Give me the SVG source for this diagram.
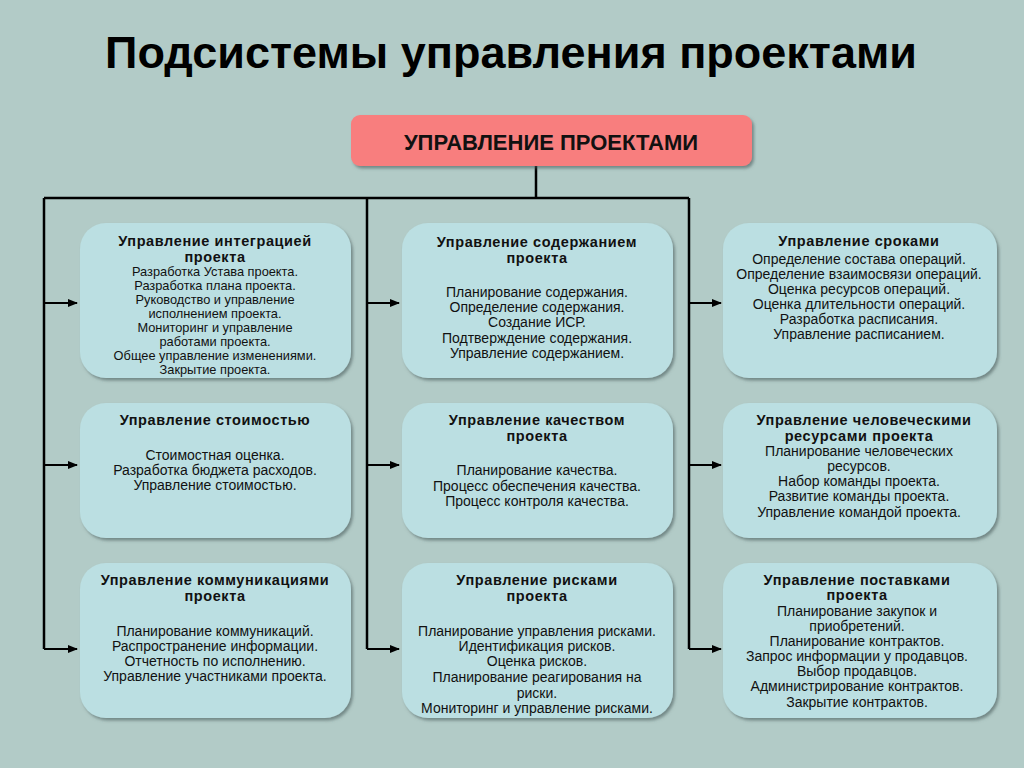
<svg xmlns="http://www.w3.org/2000/svg" width="1024" height="768" viewBox="0 0 1024 768">
<defs>
<marker id="arr" markerWidth="10" markerHeight="8" refX="9" refY="4" orient="auto" markerUnits="userSpaceOnUse">
<path d="M0,0 L10,4 L0,8 Z" fill="#000"/>
</marker>
<filter id="sh" x="-10%" y="-10%" width="120%" height="130%">
<feDropShadow dx="2" dy="2.5" stdDeviation="1.5" flood-color="#4a5a5a" flood-opacity="0.6"/>
</filter>
</defs>
<style>
.box{fill:#bbdfe2;filter:url(#sh);}
.h{font-family:"Liberation Sans",Arial,sans-serif;font-weight:bold;font-size:14.5px;fill:#111;text-anchor:middle;letter-spacing:0.6px;}
.b{font-family:"Liberation Sans",Arial,sans-serif;font-size:14px;fill:#111;text-anchor:middle;}
.s{font-size:12.8px;}
.ln{stroke:#000;stroke-width:2.5;fill:none;}
.ar{stroke:#000;stroke-width:2;fill:none;marker-end:url(#arr);}
</style>
<rect width="1024" height="768" fill="#b2cbc7"/>
<text x="511" y="68" font-family="'Liberation Sans',Arial,sans-serif" font-weight="bold" font-size="45" text-anchor="middle" fill="#000">Подсистемы управления проектами</text>

<g id="connectors">
<path class="ln" d="M536,166 V198 M44,198 H689 M44,198 V649 M367,198 V649 M689,198 V649"/>
<path class="ar" d="M44,303 H77"/>
<path class="ar" d="M44,465 H77"/>
<path class="ar" d="M44,649 H77"/>
<path class="ar" d="M367,303 H399"/>
<path class="ar" d="M367,465 H399"/>
<path class="ar" d="M367,649 H399"/>
<path class="ar" d="M689,303 H721"/>
<path class="ar" d="M689,465 H721"/>
<path class="ar" d="M689,649 H721"/>
</g>

<g id="root">
<rect x="351" y="115" width="401" height="51" rx="9" fill="#f87e7e" filter="url(#sh)"/>
<text x="551" y="150" font-family="'Liberation Sans',Arial,sans-serif" font-weight="bold" font-size="22" text-anchor="middle" fill="#111">УПРАВЛЕНИЕ ПРОЕКТАМИ</text>
</g>

<g id="n-integration">
<rect class="box" x="80" y="223" width="271" height="155" rx="26"/>
<text class="h" x="215" y="246">Управление интеграцией</text>
<text class="h" x="215" y="262">проекта</text>
<text class="b s" x="215" y="276">Разработка Устава проекта.</text>
<text class="b s" x="215" y="290">Разработка плана проекта.</text>
<text class="b s" x="215" y="304">Руководство и управление</text>
<text class="b s" x="215" y="318">исполнением проекта.</text>
<text class="b s" x="215" y="332">Мониторинг и управление</text>
<text class="b s" x="215" y="346">работами проекта.</text>
<text class="b s" x="215" y="360">Общее управление изменениями.</text>
<text class="b s" x="215" y="374">Закрытие проекта.</text>
</g>

<g id="n-scope">
<rect class="box" x="402" y="223" width="271" height="155" rx="26"/>
<text class="h" x="537" y="247">Управление содержанием</text>
<text class="h" x="537" y="263">проекта</text>
<text class="b" x="537" y="297">Планирование содержания.</text>
<text class="b" x="537" y="312">Определение содержания.</text>
<text class="b" x="537" y="327">Создание ИСР.</text>
<text class="b" x="537" y="343">Подтверждение содержания.</text>
<text class="b" x="537" y="358">Управление содержанием.</text>
</g>

<g id="n-time">
<rect class="box" x="723" y="223" width="274" height="155" rx="26"/>
<text class="h" x="859" y="246">Управление сроками</text>
<text class="b" x="859" y="264">Определение состава операций.</text>
<text class="b" x="859" y="279">Определение взаимосвязи операций.</text>
<text class="b" x="859" y="294">Оценка ресурсов операций.</text>
<text class="b" x="859" y="309">Оценка длительности операций.</text>
<text class="b" x="859" y="324">Разработка расписания.</text>
<text class="b" x="859" y="339">Управление расписанием.</text>
</g>

<g id="n-cost">
<rect class="box" x="80" y="403" width="271" height="135" rx="26"/>
<text class="h" x="215" y="425">Управление стоимостью</text>
<text class="b" x="215" y="460">Стоимостная оценка.</text>
<text class="b" x="215" y="475">Разработка бюджета расходов.</text>
<text class="b" x="215" y="490">Управление стоимостью.</text>
</g>

<g id="n-quality">
<rect class="box" x="402" y="403" width="271" height="135" rx="26"/>
<text class="h" x="537" y="425">Управление качеством</text>
<text class="h" x="537" y="441">проекта</text>
<text class="b" x="537" y="475">Планирование качества.</text>
<text class="b" x="537" y="491">Процесс обеспечения качества.</text>
<text class="b" x="537" y="506">Процесс контроля качества.</text>
</g>

<g id="n-hr">
<rect class="box" x="723" y="403" width="274" height="135" rx="26"/>
<text class="h" x="864" y="425">Управление человеческими</text>
<text class="h" x="859" y="441">ресурсами проекта</text>
<text class="b" x="859" y="456">Планирование человеческих</text>
<text class="b" x="859" y="471">ресурсов.</text>
<text class="b" x="859" y="486">Набор команды проекта.</text>
<text class="b" x="859" y="501">Развитие команды проекта.</text>
<text class="b" x="859" y="517">Управление командой проекта.</text>
</g>

<g id="n-comm">
<rect class="box" x="80" y="563" width="271" height="155" rx="26"/>
<text class="h" x="215" y="585">Управление коммуникациями</text>
<text class="h" x="215" y="601">проекта</text>
<text class="b" x="215" y="636">Планирование коммуникаций.</text>
<text class="b" x="215" y="651">Распространение информации.</text>
<text class="b" x="215" y="666">Отчетность по исполнению.</text>
<text class="b" x="215" y="681">Управление участниками проекта.</text>
</g>

<g id="n-risk">
<rect class="box" x="402" y="563" width="271" height="155" rx="26"/>
<text class="h" x="537" y="585">Управление рисками</text>
<text class="h" x="537" y="601">проекта</text>
<text class="b" x="537" y="636">Планирование управления рисками.</text>
<text class="b" x="537" y="651">Идентификация рисков.</text>
<text class="b" x="537" y="666">Оценка рисков.</text>
<text class="b" x="537" y="682">Планирование реагирования на</text>
<text class="b" x="537" y="698">риски.</text>
<text class="b" x="537" y="713">Мониторинг и управление рисками.</text>
</g>

<g id="n-procurement">
<rect class="box" x="723" y="563" width="274" height="155" rx="26"/>
<text class="h" x="857" y="585">Управление поставками</text>
<text class="h" x="857" y="600">проекта</text>
<text class="b" x="857" y="616">Планирование закупок и</text>
<text class="b" x="857" y="631">приобретений.</text>
<text class="b" x="857" y="646">Планирование контрактов.</text>
<text class="b" x="857" y="661">Запрос информации у продавцов.</text>
<text class="b" x="857" y="676">Выбор продавцов.</text>
<text class="b" x="857" y="691">Администрирование контрактов.</text>
<text class="b" x="857" y="707">Закрытие контрактов.</text>
</g>
</svg>
